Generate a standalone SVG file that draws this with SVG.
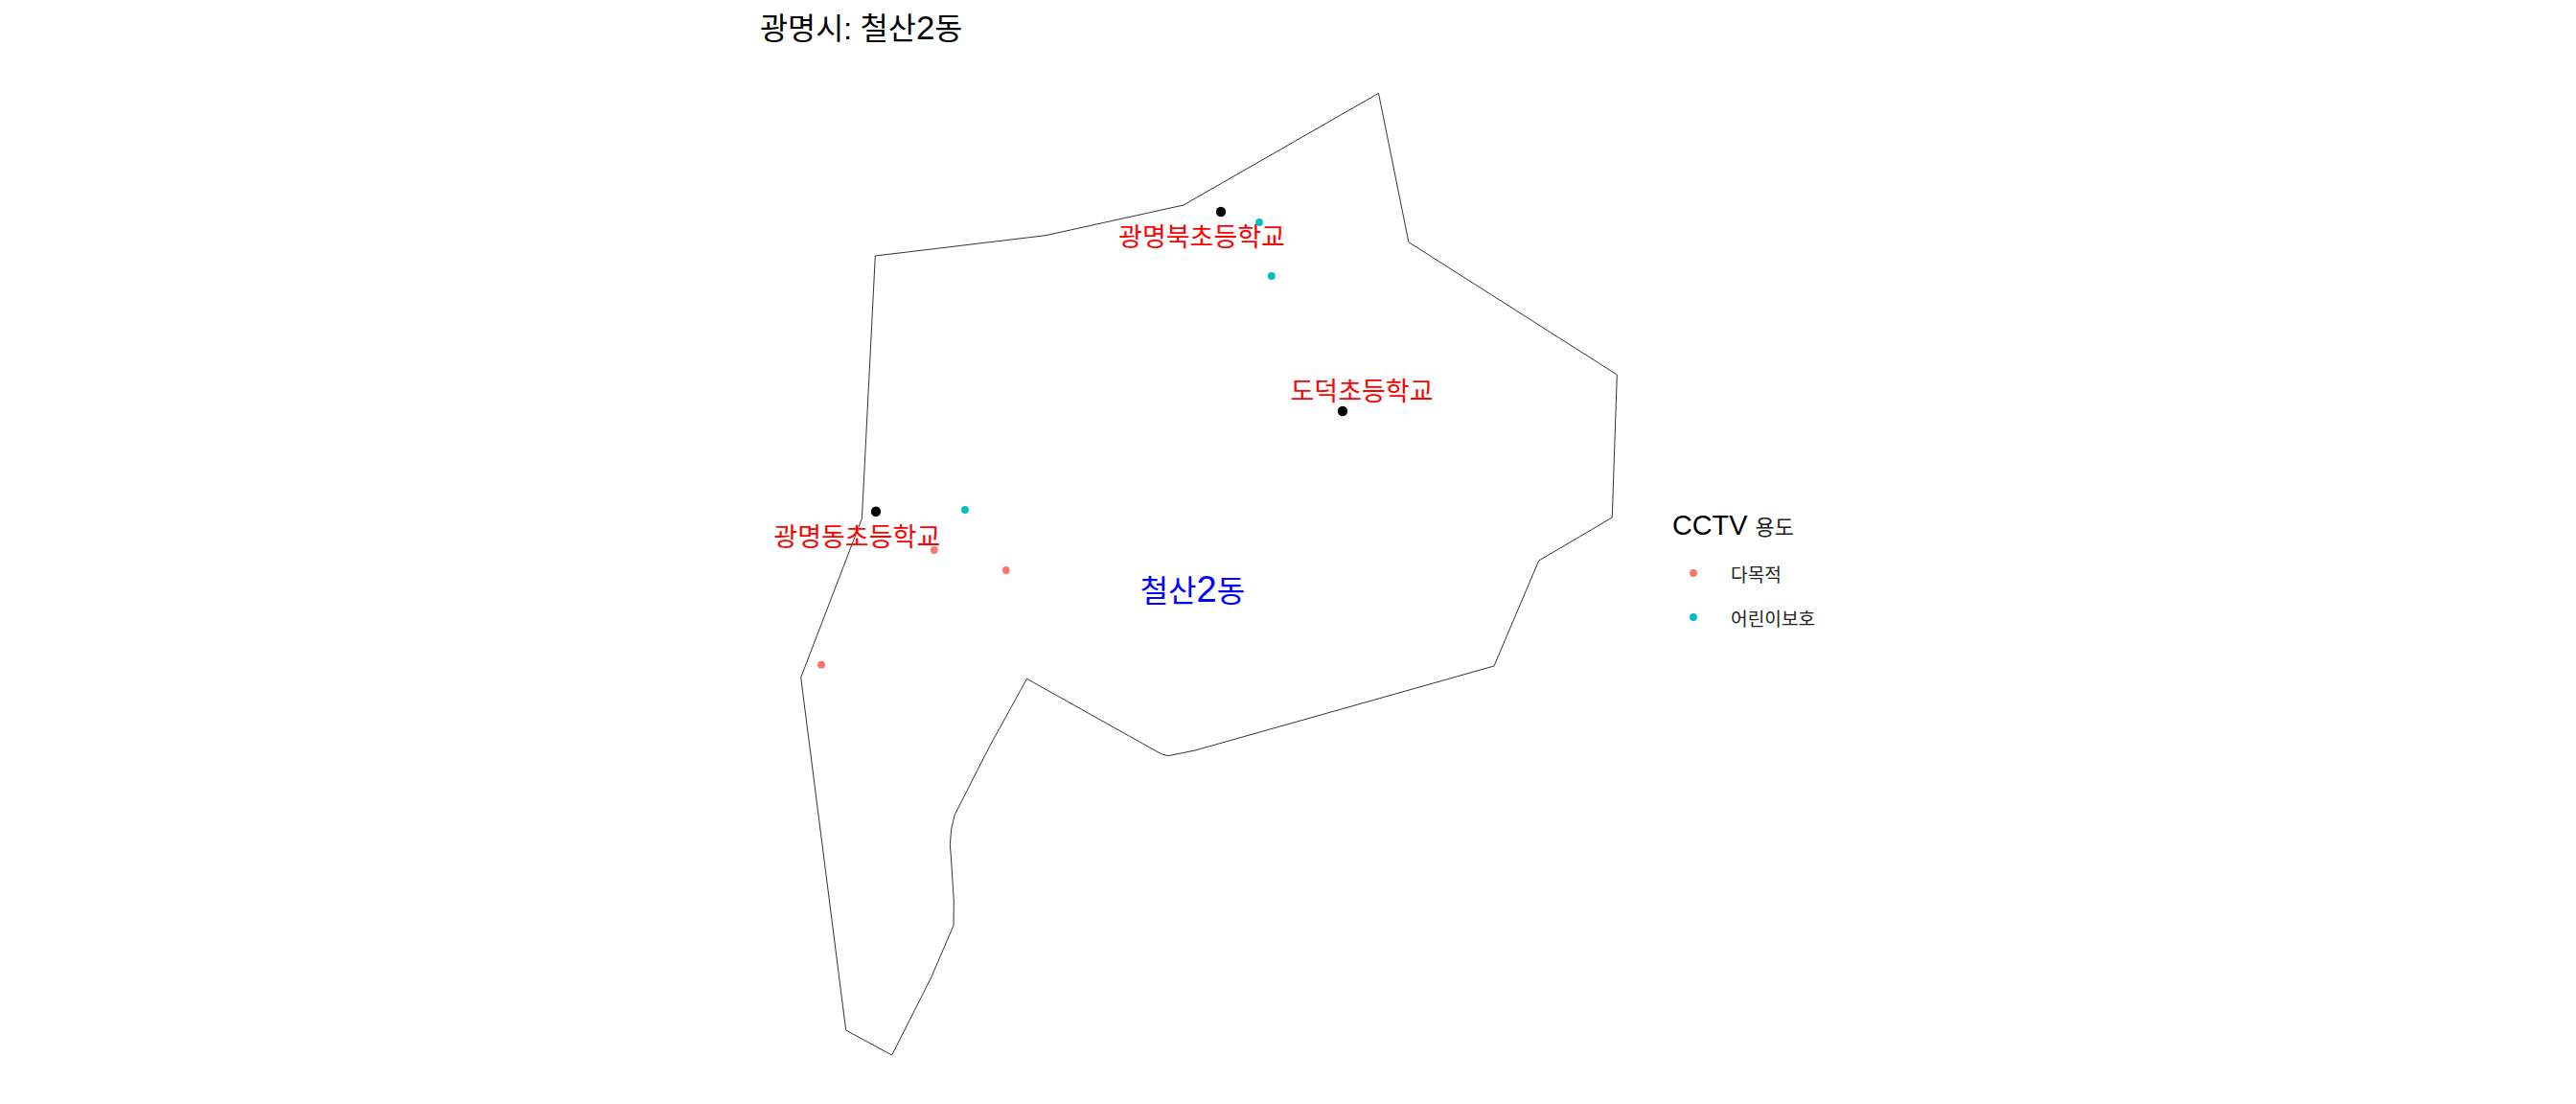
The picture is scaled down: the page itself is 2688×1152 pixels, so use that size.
<svg xmlns="http://www.w3.org/2000/svg" width="2688" height="1152" viewBox="0 0 2688 1152">
<style>
text{font-family:"Liberation Sans","Noto Sans CJK KR",sans-serif}
.boundary{fill:none;stroke:#333;stroke-width:1;stroke-linejoin:miter}
.school{fill:#000}
.multi{fill:#F8766D}
.child{fill:#00BFC4}
.slabel{fill:#f00;font-size:27px;text-anchor:middle}
.leg{fill:#222;font-size:19.2px}
</style>
<rect width="2688" height="1152" fill="#fff"/>
<text id="title" x="793" y="41" font-size="31.6" fill="#000">광명시: 철산<tspan font-size="35">2</tspan>동</text>
<path id="boundary" class="boundary" d="M913.3,267 L1091,245.7 L1235,214 L1438.5,97.3 L1469.9,252.7 L1687.3,391 L1682.3,540 L1605.7,585 L1559,695 L1247,783 L1219,788.7 L1211.7,786.7 L1071.5,708.3 L1032,780 L996.3,850 L992.7,865 L991.3,881.7 L992.3,893 L995.3,940 L995,965.7 L971.7,1020 L930.7,1101 L882.7,1075 L835.7,707 L899.4,541 L902.5,480 Z"/>
<g id="cctv">
<circle class="multi" cx="974.8" cy="574" r="3.9"/>
<circle class="multi" cx="1049.8" cy="595" r="3.9"/>
<circle class="multi" cx="857" cy="693.7" r="3.9"/>
<circle class="child" cx="1314" cy="232" r="3.9"/>
<circle class="child" cx="1326.8" cy="288" r="3.9"/>
<circle class="child" cx="1007" cy="532" r="3.9"/>
</g>
<g id="school-n"><circle class="school" cx="1274" cy="221" r="5.2"/><text class="slabel" x="1254" y="257">광명북초등학교</text></g>
<g id="school-d"><circle class="school" cx="1401" cy="429" r="5.2"/><text class="slabel" x="1421" y="417.5">도덕초등학교</text></g>
<g id="school-e"><circle class="school" cx="914" cy="533.7" r="5.2"/><text class="slabel" x="894.3" y="570">광명동초등학교</text></g>
<text id="dong" x="1244.4" y="628" font-size="32" fill="#00f" text-anchor="middle">철산<tspan font-size="38">2</tspan>동</text>
<g id="legend">
<text x="1745" y="558" font-size="28.8" fill="#000">CCTV <tspan font-size="22" fill="#222">용도</tspan></text>
<circle class="multi" cx="1767" cy="598" r="3.9"/>
<text class="leg" x="1806" y="607">다목적</text>
<circle class="child" cx="1767" cy="644" r="3.9"/>
<text class="leg" x="1806" y="653">어린이보호</text>
</g>
</svg>
